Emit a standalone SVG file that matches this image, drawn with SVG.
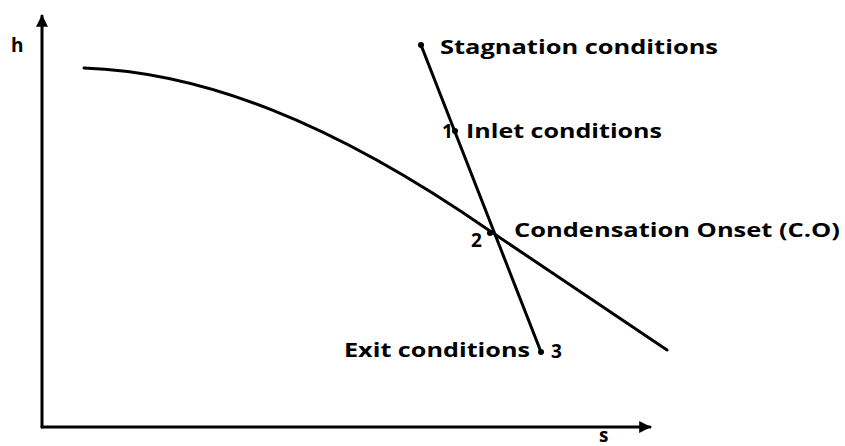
<svg xmlns="http://www.w3.org/2000/svg" width="845" height="446" viewBox="0 0 845 446">
<style>
.ln{stroke:#000;stroke-width:3;fill:none;stroke-linecap:round}
.t{font-family:"Open Sans","Liberation Sans",sans-serif;font-weight:bold;font-size:19px;fill:#000}
</style>
<defs>
<marker id="ah" viewBox="0 0 10 10" refX="9" refY="5" markerWidth="4" markerHeight="4" orient="auto"><path d="M0,0 L10,5 L0,10 z" fill="#000"/></marker>
</defs>
<rect width="845" height="446" fill="#fff"/>
<g id="axes">
<line class="ln" x1="42" y1="427" x2="42" y2="16" marker-end="url(#ah)" stroke-linecap="butt"/>
<line class="ln" x1="42" y1="427" x2="650" y2="427" marker-end="url(#ah)" stroke-linecap="butt"/>
<text class="t" x="11" y="52">h</text>
<text class="t" x="599" y="442" font-size="17">s</text>
</g>
<g id="curve">
<path class="ln" d="M84,68 C200,72 330,120 490,231 L667,350"/>
</g>
<g id="process">
<line class="ln" x1="421" y1="45" x2="541" y2="352"/>
</g>
<g id="stagnation"><circle cx="421" cy="45" r="3"/><text class="t" x="440" y="54" textLength="278" lengthAdjust="spacingAndGlyphs">Stagnation conditions</text></g>
<g id="inlet"><circle cx="455" cy="131" r="3"/><text class="t" x="442" y="138">1</text><text class="t" x="466" y="138" textLength="196" lengthAdjust="spacingAndGlyphs">Inlet conditions</text></g>
<g id="onset"><circle cx="490" cy="233" r="3"/><text class="t" x="471" y="247">2</text><text class="t" x="514" y="237" textLength="326" lengthAdjust="spacingAndGlyphs">Condensation Onset (C.O)</text></g>
<g id="exit"><circle cx="541" cy="352" r="3"/><text class="t" x="344" y="357" textLength="186" lengthAdjust="spacingAndGlyphs">Exit conditions</text><text class="t" x="551" y="358">3</text></g>
</svg>
